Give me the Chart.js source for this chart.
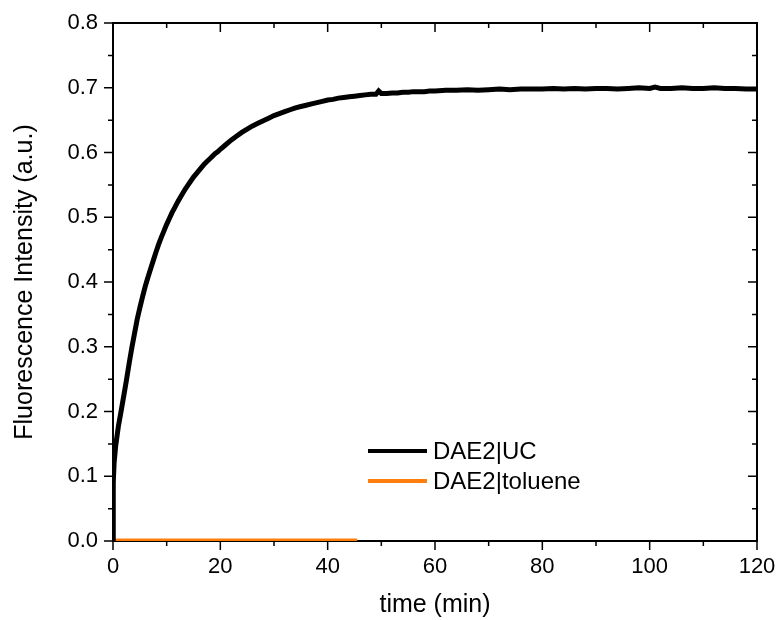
<!DOCTYPE html>
<html>
<head>
<meta charset="utf-8">
<title>DAE2 fluorescence</title>
<script src="https://cdn.jsdelivr.net/npm/chart.js@4/dist/chart.umd.min.js"></script>
<style>
  body { margin: 0; background: #fff; }
  canvas { display: block; }
</style>
</head>
<body>
<canvas id="chart" width="777" height="620"></canvas>
<script>
// DAE2|UC - tempo (min) e intensidade
const ucTime = [0, 0.05, 0.2, 0.5, 1, 1.5, 2, 2.5, 3, 3.5, 4, 4.5, 5, 5.5, 6, 6.5, 7, 7.5, 8, 8.5,
  9, 9.5, 10, 10.5, 11, 11.5, 12, 12.5, 13, 13.5, 14, 14.5, 15, 15.5, 16, 16.5, 17, 17.5, 18, 18.5,
  19, 19.5, 20, 21, 22, 23, 24, 25, 26, 27, 28, 29, 30, 31, 32, 33, 34, 35, 36, 37,
  38, 39, 40, 41, 42, 43, 44, 45, 46, 47, 48, 49, 49.5, 50, 51, 52, 53, 54, 55, 56,
  57, 58, 59, 60, 62, 64, 66, 68, 70, 72, 74, 76, 78, 80, 82, 84, 86, 88, 90, 92,
  94, 96, 98, 100, 101, 102, 104, 106, 108, 110, 112, 114, 116, 118, 120];
const ucValues = [0, 0.09, 0.12, 0.147, 0.177, 0.2, 0.224, 0.248, 0.274, 0.298, 0.32, 0.342, 0.36, 0.377, 0.393, 0.407, 0.42, 0.433, 0.446, 0.458,
  0.469, 0.479, 0.489, 0.498, 0.507, 0.515, 0.523, 0.53, 0.537, 0.544, 0.55, 0.556, 0.562, 0.567, 0.572, 0.577, 0.582, 0.586, 0.59, 0.594,
  0.598, 0.601, 0.605, 0.612, 0.619, 0.625, 0.631, 0.636, 0.641, 0.645, 0.649, 0.653, 0.657, 0.660, 0.663, 0.666, 0.669, 0.671, 0.673, 0.675,
  0.677, 0.679, 0.681, 0.682, 0.684, 0.685, 0.686, 0.687, 0.688, 0.689, 0.690, 0.690, 0.695, 0.691, 0.691, 0.692, 0.692, 0.693, 0.693, 0.694,
  0.694, 0.694, 0.695, 0.695, 0.696, 0.696, 0.697, 0.696, 0.697, 0.698, 0.697, 0.698, 0.698, 0.698, 0.699, 0.698, 0.699, 0.698, 0.699, 0.699,
  0.698, 0.699, 0.700, 0.699, 0.701, 0.699, 0.699, 0.700, 0.699, 0.699, 0.700, 0.699, 0.699, 0.698, 0.698];

// DAE2|toluene - praticamente zero até ~45 min
const tolTime = [0, 3, 6, 9, 12, 15, 18, 21, 24, 27, 30, 33, 36, 39, 42, 45.5];
const tolValues = [0.0015, 0.0015, 0.0016, 0.0015, 0.0016, 0.0015, 0.0016, 0.0017, 0.0015, 0.0016, 0.0017, 0.0016, 0.0016, 0.0017, 0.0016, 0.0016];

const seriesLabels = ['DAE2|UC', 'DAE2|toluene'];
const seriesColors = ['#000000', '#ff7f0e'];

const FONT = '"Liberation Sans", Arial, sans-serif';

function toPoints(xs, ys) {
    return xs.map((x, i) => ({ x: x, y: ys[i] }));
}

// moldura com ticks (fora em baixo/esquerda, dentro em cima/direita)
const framePlugin = {
    id: 'frame',
    beforeDatasetsDraw(chart) {
        const { ctx, chartArea: a, scales: { x, y } } = chart;
        ctx.save();
        ctx.strokeStyle = '#000';
        ctx.lineWidth = 2;
        ctx.strokeRect(a.left, a.top, a.right - a.left, a.bottom - a.top);
        ctx.lineWidth = 1.5;
        const major = 9, minor = 5;
        ctx.beginPath();
        for (let v = 0; v <= 120; v += 10) {
            const px = x.getPixelForValue(v);
            const len = v % 20 === 0 ? major : minor;
            ctx.moveTo(px, a.bottom); ctx.lineTo(px, a.bottom + len);
            ctx.moveTo(px, a.top); ctx.lineTo(px, a.top + len);
        }
        for (let i = 0; i <= 16; i++) {
            const py = y.getPixelForValue(i * 0.05);
            const len = i % 2 === 0 ? major : minor;
            ctx.moveTo(a.left, py); ctx.lineTo(a.left - len, py);
            ctx.moveTo(a.right, py); ctx.lineTo(a.right - len, py);
        }
        ctx.stroke();
        ctx.restore();
    }
};

// legenda dentro da área do gráfico
const legendPlugin = {
    id: 'innerLegend',
    afterDraw(chart) {
        const { ctx, chartArea: a } = chart;
        ctx.save();
        ctx.font = '24px ' + FONT;
        ctx.textBaseline = 'middle';
        chart.data.datasets.forEach((ds, i) => {
            const ly = a.bottom - 90 + i * 30;
            const lx = a.left + 255;
            ctx.strokeStyle = ds.borderColor;
            ctx.lineWidth = 4;
            ctx.beginPath();
            ctx.moveTo(lx, ly); ctx.lineTo(lx + 59, ly);
            ctx.stroke();
            ctx.fillStyle = '#000';
            ctx.fillText(ds.label, lx + 65, ly + 1);
        });
        ctx.restore();
    }
};

new Chart(document.getElementById('chart').getContext('2d'), {
    type: 'line',
    data: {
        datasets: [
            {
                label: seriesLabels[0],
                data: toPoints(ucTime, ucValues),
                borderColor: seriesColors[0],
                borderWidth: 5,
                pointRadius: 0,
                tension: 0
            },
            {
                label: seriesLabels[1],
                data: toPoints(tolTime, tolValues),
                borderColor: seriesColors[1],
                borderWidth: 3,
                pointRadius: 0,
                tension: 0
            }
        ]
    },
    options: {
        responsive: false,
        animation: false,
        layout: { padding: { top: 23, right: 20, left: 0, bottom: 0 } },
        plugins: {
            legend: { display: false },
            tooltip: { enabled: false }
        },
        scales: {
            x: {
                type: 'linear',
                min: 0,
                max: 120,
                grid: { display: false, drawTicks: false },
                border: { display: false },
                ticks: { stepSize: 20, padding: 13, color: '#000', font: { family: FONT, size: 22 } },
                title: { display: true, text: 'time (min)', color: '#000', padding: 0, font: { family: FONT, size: 25 } },
                afterFit(scale) {
                    scale.height = 79;
                    scale.paddingLeft = 0;
                    scale.paddingRight = 0;
                }
            },
            y: {
                min: 0,
                max: 0.8,
                grid: { display: false, drawTicks: false },
                border: { display: false },
                ticks: {
                    stepSize: 0.1,
                    padding: 15,
                    color: '#000',
                    font: { family: FONT, size: 22 },
                    callback: v => v.toFixed(1)
                },
                title: { display: true, text: 'Fluorescence Intensity (a.u.)', color: '#000', padding: { top: 10 }, font: { family: FONT, size: 25 } },
                afterFit(scale) {
                    scale.width = 113;
                    scale.paddingTop = 0;
                    scale.paddingBottom = 0;
                }
            }
        }
    },
    plugins: [framePlugin, legendPlugin]
});
</script>
</body>
</html>
